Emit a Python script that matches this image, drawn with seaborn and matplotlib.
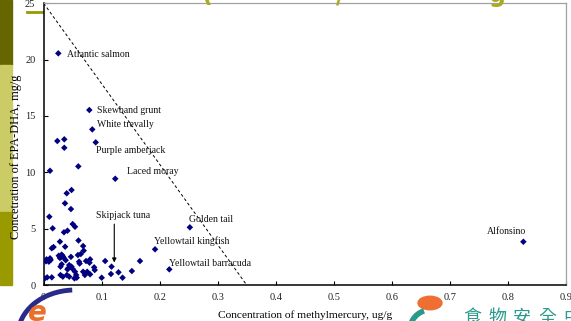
import numpy as np
import pandas as pd
import matplotlib
matplotlib.use("Agg")
import matplotlib.pyplot as plt
import seaborn as sns
from matplotlib.patches import Rectangle, Circle, Arc
from matplotlib.lines import Line2D

# methylmercury (ug/g) vs EPA+DHA (mg/g)
mehg = [0.0252, 0.0787, 0.0838, 0.0235, 0.0355, 0.0355, 0.0897, 0.0109, 0.0597, 0.1234,
        0.0397, 0.048, 0.0367, 0.047, 0.0097, 0.0155, 0.050, 0.054, 0.041, 0.035,
        0.252, 0.192, 0.2166, 0.827, 0.166, 0.152, 0.136, 0.129, 0.117, 0.116,
        0.106, 0.100, 0.060, 0.028, 0.017, 0.014, 0.037, 0.068, 0.069, 0.064,
        0.005, 0.011, 0.009, 0.012, 0.004, 0.026, 0.030, 0.033, 0.028, 0.034,
        0.031, 0.038, 0.047, 0.059, 0.061, 0.062, 0.080, 0.079, 0.073, 0.087,
        0.088, 0.031, 0.029, 0.044, 0.048, 0.042, 0.050, 0.041, 0.002, 0.006,
        0.014, 0.029, 0.033, 0.040, 0.044, 0.053, 0.057, 0.054, 0.056, 0.068,
        0.071, 0.075, 0.080]
epa_dha = [20.56, 15.53, 13.81, 12.78, 12.93, 12.18, 12.66, 10.14, 10.53, 9.43,
           8.14, 8.43, 7.25, 6.74, 6.06, 5.03, 5.41, 5.17, 4.82, 4.68,
           5.12, 3.17, 1.39, 3.84, 2.13, 1.24, 0.65, 1.13, 1.63, 0.98,
           2.13, 0.65, 3.95, 3.85, 3.37, 3.26, 3.40, 3.46, 3.05, 2.75,
           2.28, 2.37, 2.07, 2.22, 2.10, 2.60, 2.50, 2.55, 2.40, 2.45,
           2.70, 2.20, 2.50, 2.66, 2.07, 1.90, 2.28, 1.98, 2.13, 1.57,
           1.33, 1.84, 1.63, 1.77, 1.63, 1.48, 1.42, 1.39, 0.59, 0.68,
           0.68, 0.89, 0.74, 0.89, 0.74, 0.59, 0.65, 1.18, 0.89, 1.18,
           0.89, 1.18, 0.95]

fish = ["Atlantic salmon", "Skewband grunt", "White trevally", "Purple amberjack",
        "Laced moray", "Skipjack tuna", "Golden tail", "Yellowtail kingfish",
        "Yellowtail barracuda", "Alfonsino"]
fish_x = [0.0397, 0.0913, 0.0913, 0.090, 0.144, 0.090, 0.2505, 0.1907, 0.2166, 0.7638]
fish_y = [20.5, 15.5, 14.26, 11.98, 10.1, 6.2, 5.77, 3.9, 1.92, 4.79]

limit_x = [0.0, 0.35]
limit_y = [25.0, 0.0]

df = pd.DataFrame({"mehg": mehg, "epa_dha": epa_dha})

serif = "Liberation Serif"
fig = plt.figure(figsize=(5.71, 3.21), dpi=100)
ax = fig.add_axes([0.0765, 0.1121, 0.9142, 0.8776])

sns.scatterplot(data=df, x="mehg", y="epa_dha", marker="D", color="#000080",
                s=11, edgecolor="none", ax=ax, zorder=3)
ax.plot(limit_x, limit_y, color="black", lw=0.7, ls=(0, (3, 2.5)))

for name, tx, ty in zip(fish, fish_x, fish_y):
    ax.text(tx, ty, name, fontsize=7, family=serif, va="center", ha="left", color="#111111")

# arrow for skipjack tuna
ax.annotate("", xy=(0.1217, 1.75), xytext=(0.1217, 5.65),
            arrowprops=dict(arrowstyle="-|>", color="black", lw=0.8, mutation_scale=6))

ax.set_xlim(0, 0.9)
ax.set_ylim(0, 25)
ax.set_xticks(np.arange(0, 0.91, 0.1))
ax.set_xticklabels(["0"] + [f"{v:.1f}" for v in np.arange(0.1, 0.91, 0.1)])
ax.set_yticks([0, 5, 10, 15, 20, 25])
ax.tick_params(direction="in", length=3, width=0.8, labelsize=7.5, pad=6)
for lab in ax.get_xticklabels() + ax.get_yticklabels():
    lab.set_family(serif)
    lab.set_color("#222222")
for side in ["left", "bottom"]:
    ax.spines[side].set_color("black")
    ax.spines[side].set_linewidth(1.1)
for side in ["top", "right"]:
    ax.spines[side].set_color("#a0a0a0")
    ax.spines[side].set_linewidth(0.9)

ax.set_xlabel("Concentration of methylmercury, ug/g", family=serif, fontsize=8.2, labelpad=6)
ax.set_ylabel("Concetration of EPA-DHA, mg/g", family=serif, fontsize=8.8)
ax.yaxis.set_label_coords(-0.041, 0.455)

# slide decoration: side bar (behind the axes)
bars = [(0, 65, "#666600"), (65, 212, "#cccc66"), (212, 285, "#999900")]
for top, bottom, col in bars:
    fig.patches.append(Rectangle((0, 1 - bottom / 321), 12 / 571, (bottom - top) / 321,
                                 transform=fig.transFigure, color=col, zorder=-5))
fig.lines.append(Line2D([27 / 571, 44 / 571], [1 - 12 / 321] * 2, transform=fig.transFigure,
                        color="#999900", lw=2, zorder=-5))

# cut-off title glyphs at the top
for gx, g in [(207, "("), (340, "/"), (497, "g")]:
    fig.text(gx / 571, 1.015, g, fontsize=17, color="#aaaa22", fontweight="bold",
             ha="center", va="center")

# left logo
fig.patches.append(Arc((75 / 571, 1 - 335 / 321), 114 / 571, 90 / 321, theta1=92, theta2=180,
                       transform=fig.transFigure, color="#2a2a8a", lw=3.5))
fig.text(37 / 571, -0.02, "e", fontsize=20, color="#e8702a", style="italic",
         fontweight="bold", ha="center", va="bottom", family="DejaVu Sans")

# right logo
fig.patches.append(Circle((430 / 571, 1 - 303 / 321), 12 / 571, transform=fig.transFigure,
                          color="#ef6f32", zorder=1))
fig.patches.append(Arc((430 / 571, 1 - 330 / 321), 40 / 571, 40 / 321, theta1=100, theta2=200,
                       transform=fig.transFigure, color="#2a9a8a", lw=4))
for i, ch in enumerate("食物安全中心"):
    fig.text((472 + 25 * i) / 571, 1 - 318 / 321, ch, fontsize=13, color="#2a9a8a",
             family=["Noto Sans CJK TC", "DejaVu Sans"], ha="center", va="center")

fig.savefig("out.png", dpi=100)
